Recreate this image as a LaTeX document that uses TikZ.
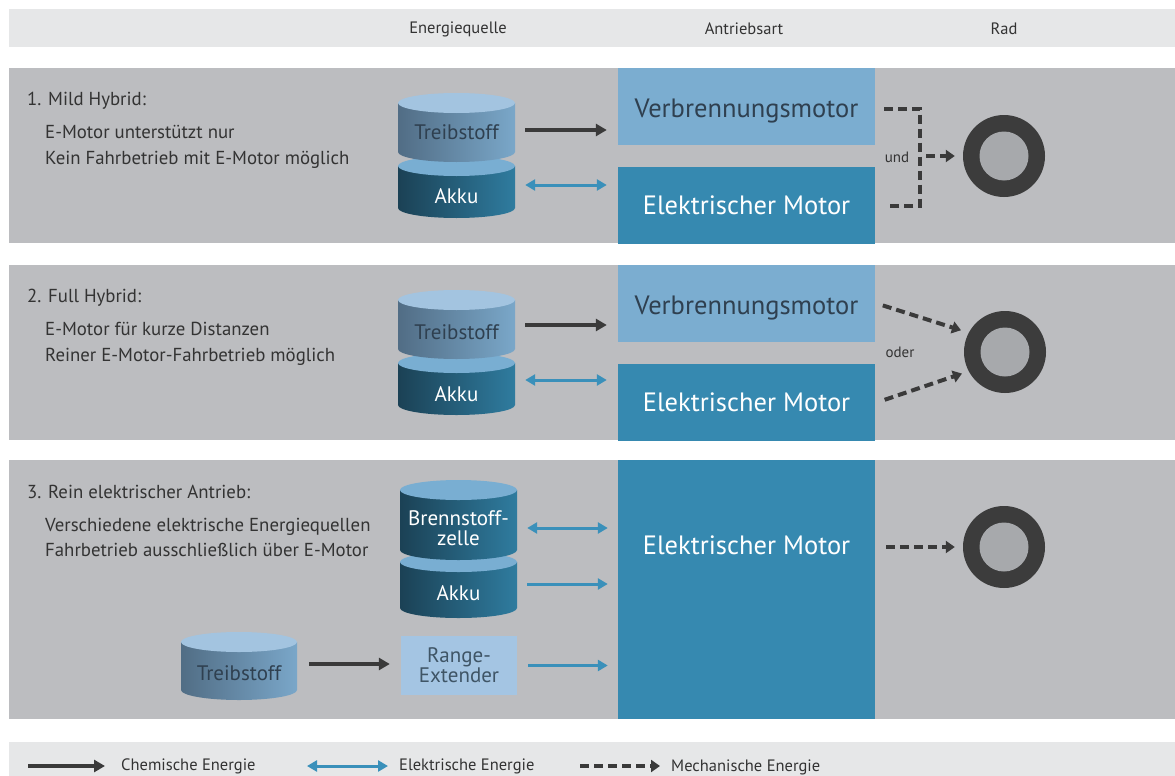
\documentclass[tikz,border=0pt]{standalone}
\usepackage{fontspec}
\setmainfont{PT Sans}
\usetikzlibrary{arrows.meta}
\definecolor{hdr}{HTML}{E6E7E8}
\definecolor{panel}{HTML}{BCBDC0}
\definecolor{verb}{HTML}{7BADD0}
\definecolor{elmo}{HTML}{3689B0}
\definecolor{rex}{HTML}{A4C5E3}
\definecolor{ttop}{HTML}{A3C4E0}
\definecolor{tleft}{HTML}{516D85}
\definecolor{tright}{HTML}{7AA7C9}
\definecolor{atop}{HTML}{79AED2}
\definecolor{aleft}{HTML}{1B4155}
\definecolor{aright}{HTML}{2F7C9F}
\definecolor{wheelc}{HTML}{3C3C3C}
\definecolor{hubc}{HTML}{A7A9AC}
\definecolor{chemc}{HTML}{3A3A3A}
\definecolor{elecc}{HTML}{3A90BA}
\definecolor{txt}{HTML}{333333}
\definecolor{darktxt}{HTML}{2F4050}
\definecolor{rextxt}{HTML}{3F5566}
\newcommand\mycyl[7]{%
  \pgfmathsetmacro\myrx{(#2-#1)/2}%
  \shade[left color=#6, right color=#7] (#1,#3) -- (#1,#4) arc[start angle=180,end angle=0,x radius=\myrx,y radius=10] -- (#2,#3) -- cycle;
  \fill[#5] ({(#1+#2)/2},#3) ellipse[x radius=\myrx, y radius=10];
}
\tikzset{
  hdrtext/.style={font=\fontsize{16.5}{18}\selectfont, text=txt, inner sep=0pt},
  title/.style={font=\fontsize{18.8}{20}\selectfont, text=txt, anchor=base west, inner sep=0pt},
  cyltext/.style={font=\fontsize{21}{23}\selectfont, minimum width=117pt, inner sep=0pt, align=center},
  boxtext/.style={font=\fontsize{26.5}{28}\selectfont, inner sep=0pt},
  verbbox/.style={fill=verb, minimum width=257pt, minimum height=77pt, inner sep=0pt},
  elbox/.style={fill=elmo, minimum width=257pt, minimum height=77pt, inner sep=0pt, text=white, font=\fontsize{26.5}{28}\selectfont},
  wheel/.style={circle, fill=wheelc, minimum size=82pt, inner sep=0pt},
  chem/.style={draw=chemc, line width=4pt, -{Triangle[length=11pt,width=12pt]}},
  elec/.style={draw=elecc, line width=3pt, {Triangle[length=10pt,width=11pt]}-{Triangle[length=10pt,width=11pt]}},
  eleconly/.style={draw=elecc, line width=3pt, -{Triangle[length=10pt,width=11pt]}},
  mechline/.style={draw=chemc, line width=4pt, dash pattern=on 9pt off 5pt},
  mech/.style={draw=chemc, line width=4pt, dash pattern=on 9pt off 5pt, -{Triangle[length=9pt,width=12pt]}},
  smalltext/.style={font=\fontsize{15}{17}\selectfont, text=txt, inner sep=0pt},
  legtext/.style={font=\fontsize{16.5}{18}\selectfont, text=txt, anchor=west, inner sep=0pt},
}
\begin{document}
\begin{tikzpicture}[x=1pt,y=-1pt]
\useasboundingbox (0,0) rectangle (1175,776);
\fill[white] (0,0) rectangle (1175,776);
% header and panels
\fill[hdr] (9,9) rectangle (1175,47);
\fill[panel] (9,68) rectangle (1175,243);
\fill[panel] (9,265) rectangle (1175,440);
\fill[panel] (9,460) rectangle (1175,719);
\fill[hdr] (9,742) rectangle (1175,776);
\node[hdrtext] (h1) at (458,29) {Energiequelle};
\node[hdrtext] (h2) at (744,29) {Antriebsart};
\node[hdrtext] (h3) at (1004,29) {Rad};

% ---------- Panel 1
\node[title] (p1) at (27,105) {1. Mild Hybrid:};
\node[title] (d1a) at (45,138) {E-Motor unterstützt nur};
\node[title] (d1b) at (45,164) {Kein Fahrbetrieb mit E-Motor möglich};
\mycyl{398}{515}{166}{208}{atop}{aleft}{aright}
\mycyl{398}{515}{103}{152}{ttop}{tleft}{tright}
\node[cyltext, text=darktxt] (t1) at (456.5,132) {Treibstoff};
\node[cyltext, text=white] (a1) at (456.5,196) {Akku};
\node[verbbox] (v1) at (746.5,106.5) {};
\node[boxtext, text=darktxt] (v1l) at (746.5,111.5) {Verbrennungsmotor};
\node[elbox] (e1) at (746.5,205) {Elektrischer Motor};
\draw[chem, shorten <=10pt, shorten >=11pt] ([yshift=2pt]t1.east) -- ([yshift=2pt]t1.east -| v1.west);
\draw[elec, shorten <=10pt, shorten >=11pt] ([yshift=11pt]a1.east) -- ([yshift=11pt]a1.east -| e1.west);
\node[wheel] (w1) at (1004,156) {};
\fill[hubc] (w1.center) circle (24.5);
\coordinate (j1) at (920,156);
\draw[mechline] ([xshift=9pt,yshift=-2pt]v1.east) -| (j1) |- ([xshift=12pt,yshift=-1pt]e1.east);
\draw[mech, shorten <=6pt, shorten >=8pt] (j1) -- (w1.west);
\node[smalltext] (u1) at (897,157) {und};

% ---------- Panel 2
\node[title] (p2) at (27,302) {2. Full Hybrid:};
\node[title] (d2a) at (45,335) {E-Motor für kurze Distanzen};
\node[title] (d2b) at (45,361) {Reiner E-Motor-Fahrbetrieb möglich};
\mycyl{398}{515}{363}{405}{atop}{aleft}{aright}
\mycyl{398}{515}{300}{349}{ttop}{tleft}{tright}
\node[cyltext, text=darktxt] (t2) at (456.5,332) {Treibstoff};
\node[cyltext, text=white] (a2) at (456.5,394) {Akku};
\node[verbbox] (v2) at (746.5,303.5) {};
\node[boxtext, text=darktxt] (v2l) at (746.5,308.5) {Verbrennungsmotor};
\node[elbox] (e2) at (746.5,402) {Elektrischer Motor};
\draw[chem, shorten <=10pt, shorten >=11pt] ([yshift=7pt]t2.east) -- ([yshift=7pt]t2.east -| v2.west);
\draw[elec, shorten <=10pt, shorten >=11pt] ([yshift=14pt]a2.east) -- ([yshift=14pt]a2.east -| e2.west);
\node[wheel] (w2) at (1005,352) {};
\fill[hubc] (w2.center) circle (24.5);
\draw[mech, shorten <=8pt, shorten >=8pt] ([yshift=0.5pt]v2.east) -- (w2.152);
\draw[mech, shorten <=10pt, shorten >=7pt] ([yshift=-1pt]e2.east) -- (w2.208);
\node[smalltext] (o2) at (900,352) {oder};

% ---------- Panel 3
\node[title] (p3) at (27,498) {3. Rein elektrischer Antrieb:};
\node[title] (d3a) at (45,531) {Verschiedene elektrische Energiequellen};
\node[title] (d3b) at (45,556) {Fahrbetrieb ausschließlich über E-Motor};
\mycyl{400}{517}{562}{608}{atop}{aleft}{aright}
\mycyl{400}{517}{490}{550}{atop}{aleft}{aright}
\node[cyltext, text=white] (b3) at (458.5,528) {Brennstoff-\\[-3pt]zelle};
\node[cyltext, text=white] (a3) at (458.5,593) {Akku};
\mycyl{181}{297}{642}{690}{ttop}{tleft}{tright}
\node[cyltext, minimum width=116pt, text=darktxt] (t3) at (239,673) {Treibstoff};
\node[fill=rex, minimum width=116pt, minimum height=59pt, inner sep=0pt, text=rextxt, align=center, font=\fontsize{21}{23}\selectfont] (r3) at (459,665.5) {Range-\\[-3pt]Extender};
\node[elbox, minimum height=259pt] (e3) at (746.5,589.5) {};
\node[boxtext, text=white] (e3l) at (746.5,545) {Elektrischer Motor};
\draw[elec, shorten <=10pt, shorten >=10pt] ([yshift=0pt]b3.east) -- ([yshift=0pt]b3.east -| e3.west);
\draw[eleconly, shorten <=10pt, shorten >=10pt] ([yshift=9pt]a3.east) -- ([yshift=9pt]a3.east -| e3.west);
\draw[eleconly, shorten <=11pt, shorten >=10pt] (r3.east) -- (r3.east -| e3.west);
\draw[chem, shorten <=12pt, shorten >=11pt] ([yshift=9pt]t3.east) -- ([yshift=9pt]t3.east -| r3.west);
\node[wheel] (w3) at (1004,547) {};
\fill[hubc] (w3.center) circle (24.5);
\draw[mech, shorten <=11pt, shorten >=8pt] ([yshift=-2pt]e3.east |- e3l) -- (w3.west);

% ---------- Legend
\node[legtext] (l1) at (121,766) {Chemische Energie};
\node[legtext] (l2) at (399,766) {Elektrische Energie};
\node[legtext] (l3) at (671,767) {Mechanische Energie};
\draw[chem] ([xshift=-93pt]l1.west) -- ([xshift=-16pt]l1.west);
\draw[elec] ([xshift=-92pt]l2.west) -- ([xshift=-11pt]l2.west);
\draw[mech] ([xshift=-91pt,yshift=1pt]l3.west) -- ([xshift=-11pt,yshift=1pt]l3.west);
\end{tikzpicture}
\end{document}
